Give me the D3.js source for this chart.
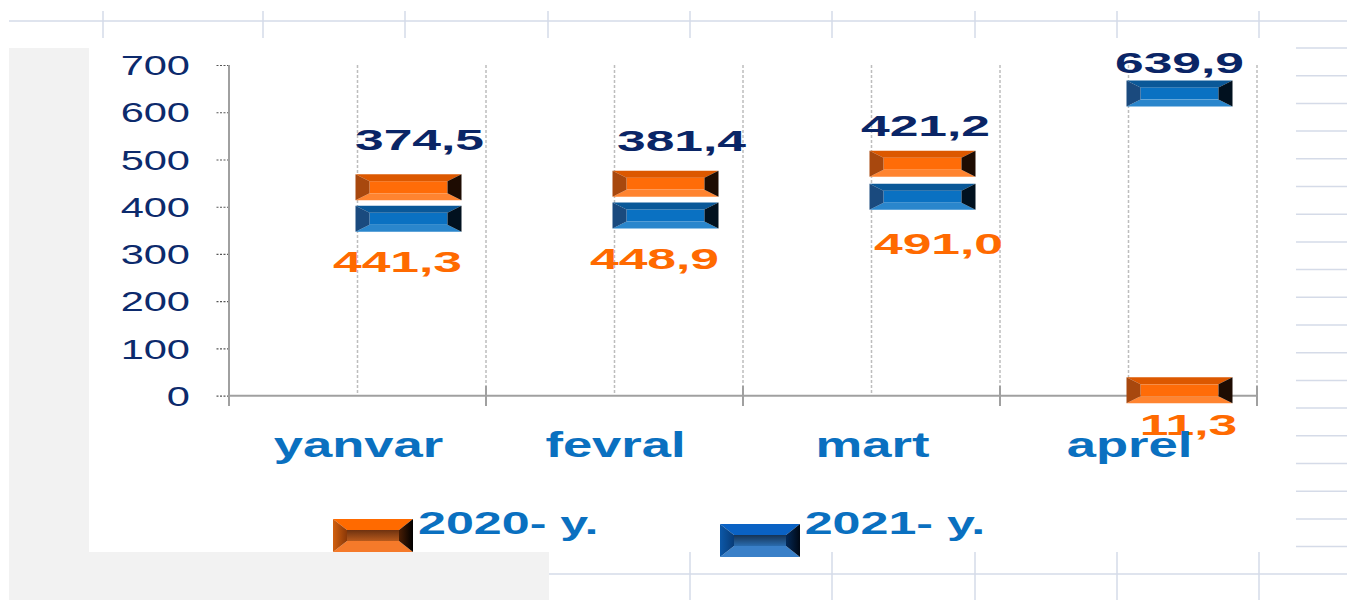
<!DOCTYPE html>
<html>
<head>
<meta charset="utf-8">
<script src="https://cdn.jsdelivr.net/npm/d3@7"></script>
<style>
  body { margin: 0; background: #fff; overflow: hidden; }
  svg { display: block; font-family: "Liberation Sans", Arial, sans-serif; }
</style>
</head>
<body>
<div id="chart"></div>
<script>
var months = ["yanvar", "fevral", "mart", "aprel"];
var values2020 = [441.3, 448.9, 491.0, 11.3];
var values2021 = [374.5, 381.4, 421.2, 639.9];
var seriesNames = ["2020- y.", "2021- y."];
var yTicks = [0, 100, 200, 300, 400, 500, 600, 700];

// labels were dragged by hand in the original, so keep the nudges (px)
var nudge2020 = [[40, 85], [40, 85], [67, 90], [60, 45]];
var nudge2021 = [[62, -69], [67, -65], [54, -61], [51, -20]];

var orangeBevel = {face: "#ff6c08", top: "#dc5800", bottom: "#ff8430", left: "#a8480e", right: "#1e0c02"};
var blueBevel = {face: "#0a71c2", top: "#0a5898", bottom: "#2a86cc", left: "#1a4a7e", right: "#01111f"};
var orangeLegend = {face: "url(#legO)", top: "#ff6a00", bottom: "#f57a2a", left: "url(#legOL)", right: "url(#legOR)"};
var blueLegend = {face: "url(#legB)", top: "#0a62c4", bottom: "#3a80c8", left: "url(#legBL)", right: "url(#legBR)"};

function init() {
  var w = 1347;
  var h = 600;
  var gridColor = "#d5dbe8";

  var svg = d3.select("#chart")
      .append("svg")
      .attr("width", w)
      .attr("height", h);

  // gradients for the legend boxes
  var defs = svg.append("defs");
  function grad(id, stops, horiz) {
    var g = defs.append("linearGradient").attr("id", id)
        .attr("x1", 0).attr("y1", 0)
        .attr("x2", horiz ? 1 : 0).attr("y2", horiz ? 0 : 1);
    stops.forEach(function(s, i) {
      g.append("stop").attr("offset", i / (stops.length - 1)).attr("stop-color", s);
    });
  }
  grad("legO", ["#6e3210", "#b85a1c"], false);
  grad("legOL", ["#d2600e", "#8a3808"], true);
  grad("legOR", ["#4a1e04", "#000000"], true);
  grad("legB", ["#163456", "#2a6cae"], false);
  grad("legBL", ["#0c58a8", "#083c78"], true);
  grad("legBR", ["#042a58", "#000814"], true);

  // spreadsheet behind the chart
  svg.append("rect").attr("x", 0).attr("y", 0).attr("width", w).attr("height", h).attr("fill", "#fff");
  var grid = svg.append("g").attr("stroke", gridColor).attr("stroke-width", 1.5);
  grid.append("line").attr("x1", 9).attr("x2", w).attr("y1", 21).attr("y2", 21);
  [103, 263, 405, 548, 690, 832, 975, 1117, 1259].forEach(function(x) {
    grid.append("line").attr("x1", x).attr("x2", x).attr("y1", 11).attr("y2", 38);
  });
  d3.range(19).forEach(function(i) {
    var y = 48 + i * 27.7;
    grid.append("line").attr("x1", 1296).attr("x2", w).attr("y1", y).attr("y2", y);
  });
  grid.append("line").attr("x1", 549).attr("x2", w).attr("y1", 574).attr("y2", 574);
  [690, 832, 975, 1117, 1259].forEach(function(x) {
    grid.append("line").attr("x1", x).attr("x2", x).attr("y1", 552).attr("y2", h);
  });
  svg.append("rect").attr("x", 9).attr("y", 48).attr("width", 540).attr("height", 552).attr("fill", "#f2f2f2");
  svg.append("rect").attr("x", 89).attr("y", 48).attr("width", 1204).attr("height", 504).attr("fill", "#fff");

  var x = d3.scaleBand().domain(months).range([229, 1257]);
  var y = d3.scaleLinear().domain([0, 700]).range([395.7, 65]);
  var bw = x.bandwidth();
  var fmt = function(v) { return d3.format(".1f")(v).replace(".", ","); };

  // stretched text, the source picture is squashed sideways
  function stretch(sel, sx) {
    sel.attr("transform", function() {
      var t = d3.select(this);
      return "translate(" + t.attr("data-x") + "," + t.attr("data-y") + ") scale(" + sx + ",1)";
    });
  }

  // dotted vertical gridlines at centres and boundaries
  var vlines = [];
  months.forEach(function(m) { vlines.push(x(m) + bw / 2); vlines.push(x(m) + bw); });
  svg.selectAll("line.vgrid")
    .data(vlines)
    .enter()
    .append("line")
    .attr("class", "vgrid")
    .attr("x1", function(d) { return d; })
    .attr("x2", function(d) { return d; })
    .attr("y1", y(700))
    .attr("y2", y(0))
    .attr("stroke", "#bdbdbd")
    .attr("stroke-width", 1.5)
    .attr("stroke-dasharray", "3,2");

  // y axis
  var yAxis = svg.append("g")
    .attr("transform", "translate(229,0)")
    .call(d3.axisLeft(y).tickValues(yTicks).tickSize(14).tickFormat(d3.format("d")));
  yAxis.select(".domain").remove();
  yAxis.selectAll(".tick line").attr("stroke", "#555").attr("stroke-dasharray", "2,1.5").attr("stroke-width", 1.2);
  yAxis.selectAll(".tick text")
    .attr("x", null).attr("dy", "0.36em")
    .attr("data-x", -39).attr("data-y", 0)
    .style("font-size", "27px")
    .style("fill", "#0c2a6c")
    .attr("text-anchor", "end");
  stretch(yAxis.selectAll(".tick text"), 1.54);

  svg.append("line").attr("x1", 229).attr("x2", 229).attr("y1", y(700)).attr("y2", 406)
    .attr("stroke", "#a0a0a0").attr("stroke-width", 2);
  svg.append("line").attr("x1", 229).attr("x2", 1257).attr("y1", y(0)).attr("y2", y(0))
    .attr("stroke", "#a0a0a0").attr("stroke-width", 2);
  svg.selectAll("line.xtick")
    .data(months)
    .enter()
    .append("line")
    .attr("x1", function(d) { return x(d) + bw; })
    .attr("x2", function(d) { return x(d) + bw; })
    .attr("y1", 386)
    .attr("y2", 406)
    .attr("stroke", "#a0a0a0")
    .attr("stroke-width", 2);

  function bevel(g, bx0, by0, bwid, bht, dx, dy, c) {
    var x1 = bx0 + bwid, y1 = by0 + bht;
    g.append("rect")
      .attr("x", bx0 + dx).attr("y", by0 + dy)
      .attr("width", bwid - 2 * dx).attr("height", bht - 2 * dy)
      .attr("fill", c.face);
    var polys = [
      {pts: [[bx0, by0], [x1, by0], [x1 - dx, by0 + dy], [bx0 + dx, by0 + dy]], fill: c.top},
      {pts: [[bx0, y1], [x1, y1], [x1 - dx, y1 - dy], [bx0 + dx, y1 - dy]], fill: c.bottom},
      {pts: [[bx0, by0], [bx0 + dx, by0 + dy], [bx0 + dx, y1 - dy], [bx0, y1]], fill: c.left},
      {pts: [[x1, by0], [x1 - dx, by0 + dy], [x1 - dx, y1 - dy], [x1, y1]], fill: c.right}
    ];
    g.selectAll("polygon")
      .data(polys)
      .enter()
      .append("polygon")
      .attr("points", function(d) { return d.pts.join(" "); })
      .attr("fill", function(d) { return d.fill; });
  }

  // markers
  function drawSeries(vals, style) {
    svg.append("g").selectAll("g")
      .data(vals)
      .enter()
      .append("g")
      .each(function(v, i) {
        bevel(d3.select(this), x(months[i]) + bw / 2 - 2, y(v) - 13, 106, 26, 14, 7, style);
      });
  }
  drawSeries(values2021, blueBevel);
  drawSeries(values2020, orangeBevel);

  // value labels
  function drawLabels(vals, nudges, color) {
    var t = svg.append("g").selectAll("text")
      .data(vals)
      .enter()
      .append("text")
      .attr("data-x", function(v, i) { return x(months[i]) + bw / 2 + nudges[i][0]; })
      .attr("data-y", function(v, i) { return y(v) + nudges[i][1]; })
      .attr("text-anchor", "middle")
      .style("font-size", "30px")
      .style("font-weight", "bold")
      .style("fill", color)
      .text(fmt);
    stretch(t, 1.72);
  }
  drawLabels(values2021, nudge2021, "#0a2566");
  drawLabels(values2020, nudge2020, "#ff6a00");

  // category labels
  var cat = svg.append("g").selectAll("text")
    .data(months)
    .enter()
    .append("text")
    .attr("data-x", function(d) { return x(d) + bw / 2 + 1; })
    .attr("data-y", 457)
    .attr("text-anchor", "middle")
    .style("font-size", "36px")
    .style("font-weight", "bold")
    .style("fill", "#0a70c0")
    .text(function(d) { return d; });
  stretch(cat, 1.46);

  // legend
  var legend = [
    {name: seriesNames[0], box: [333, 519], text: [418, 534], label: seriesNames[0], style: orangeLegend},
    {name: seriesNames[1], box: [720, 524], text: [774, 534], label: "- " + seriesNames[1], style: blueLegend}
  ];
  legend.forEach(function(l) {
    var lt = svg.append("text")
      .attr("data-x", l.text[0]).attr("data-y", l.text[1])
      .style("font-size", "31px")
      .style("font-weight", "bold")
      .style("fill", "#0a70c0")
      .text(l.label);
    stretch(lt, 1.62);
    bevel(svg.append("g"), l.box[0], l.box[1], 80, 33, 14, 11, l.style);
  });
}

window.onload = init;
</script>
</body>
</html>
